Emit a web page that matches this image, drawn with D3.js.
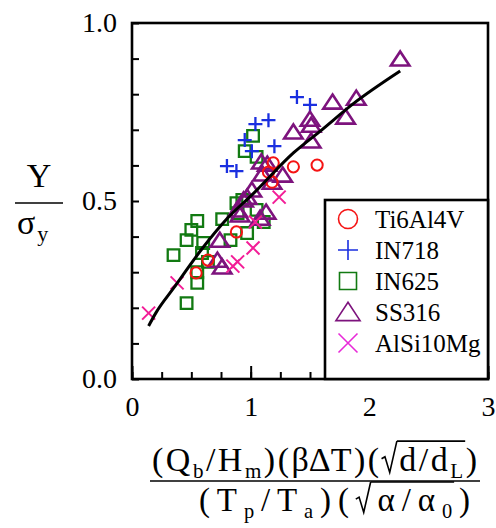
<!DOCTYPE html>
<html lang="en">
<head>
<meta charset="utf-8">
<title>Y / sigma_y scatter</title>
<script src="https://cdn.jsdelivr.net/npm/d3@7"></script>
<style>
  body { margin: 0; background: #fff; }
  svg text { font-family: "Liberation Serif", "Times New Roman", "DejaVu Serif", serif; fill: #000; }
</style>
</head>
<body>
<svg id="chart" width="496" height="528"></svg>
<script>
// values
var ti6al4v = [[1.19,0.607],[1.36,0.596],[1.56,0.601],[1.18,0.553],[1.15,0.581],[0.88,0.413],[0.64,0.334],[0.54,0.298]];
var in718 = [[1.39,0.792],[1.50,0.770],[1.15,0.727],[1.04,0.716],[0.95,0.671],[1.20,0.654],[0.80,0.598],[0.88,0.584],[1.01,0.640]];
var in625 = [[1.02,0.683],[0.95,0.640],[1.05,0.624],[0.35,0.348],[0.46,0.390],[0.50,0.419],[0.55,0.444],[0.60,0.382],
             [0.64,0.329],[0.76,0.449],[0.88,0.494],[0.89,0.466],[0.97,0.410],[1.05,0.475],[1.11,0.441],[0.55,0.300],
             [0.55,0.270],[0.46,0.213],[0.83,0.390],[0.59,0.354],[0.93,0.503]];
var ss316 = [[2.26,0.899],[1.69,0.778],[1.89,0.789],[1.80,0.736],[1.50,0.730],[1.36,0.694],[1.51,0.713],[1.51,0.669],
             [1.09,0.610],[1.14,0.604],[1.10,0.576],[1.27,0.573],[1.18,0.553],[1.01,0.531],[0.94,0.503],[0.89,0.475],
             [0.91,0.461],[1.13,0.469],[1.08,0.452],[0.74,0.390],[0.72,0.334],[0.76,0.315],[0.97,0.511]];
var alsi10mg = [[0.14,0.185],[0.38,0.270],[0.85,0.317],[0.89,0.329],[1.02,0.368],[1.04,0.441],[1.24,0.511]];
var fitX = [0.14,0.2,0.35,0.6,0.8,1.02,1.36,1.6,1.86,2.26];
var fitY = [0.149,0.185,0.255,0.37,0.45,0.52,0.635,0.70,0.772,0.865];
var xMajor = [0,1,2,3];
var yLabels = [0.0,0.5,1.0];
var names = ["Ti6Al4V","IN718","IN625","SS316","AlSi10Mg"];

var FONT = "'Liberation Serif', 'Times New Roman', 'DejaVu Serif', serif";
var svg = d3.select("#chart");
var mLeft = 132, mRight = 488, mTop = 23, mBottom = 379;

var x = d3.scaleLinear().domain([0,3]).range([mLeft,mRight]);
var y = d3.scaleLinear().domain([0,1]).range([mBottom,mTop]);

// marker outlines
function shape(kind, s)
{
    if (kind == "circle") return "M" + s + ",0A" + s + "," + s + " 0 1,1 " + (-s) + ",0A" + s + "," + s + " 0 1,1 " + s + ",0Z";
    if (kind == "plus") return "M" + (-s) + ",0H" + s + "M0," + (-s) + "V" + s;
    if (kind == "square") return "M" + (-s) + "," + (-s) + "H" + s + "V" + s + "H" + (-s) + "Z";
    if (kind == "tri") return "M0," + (-s * 0.85) + "L" + (s * 1.05) + "," + (s * 0.75) + "H" + (-s * 1.05) + "Z";
    return "M" + (-s) + "," + (-s) + "L" + s + "," + s + "M" + (-s) + "," + s + "L" + s + "," + (-s);
}

var series = [
    {data: in625, kind: "square", color: "#127a12", s: 5.8, w: 2.3},
    {data: in718, kind: "plus", color: "#1a2fe0", s: 7, w: 2.3},
    {data: ss316, kind: "tri", color: "#7d137d", s: 8.8, w: 2.6},
    {data: ti6al4v, kind: "circle", color: "#f51414", s: 5.6, w: 2},
    {data: alsi10mg, kind: "x", color: "#f31d97", s: 6.5, w: 2}
];

series.forEach(function (sr)
{
    svg.append("g").selectAll("path")
        .data(sr.data)
        .enter().append("path")
        .attr("transform", function (d) { return "translate(" + x(d[0]) + "," + y(d[1]) + ")"; })
        .attr("d", shape(sr.kind, sr.s))
        .attr("fill", "none")
        .attr("stroke", sr.color)
        .attr("stroke-width", sr.w);
});

// fitted curve
var fit = fitX.map(function (v, i) { return [v, fitY[i]]; });
svg.append("path")
    .datum(fit)
    .attr("d", d3.line().x(function (d) { return x(d[0]); }).y(function (d) { return y(d[1]); }).curve(d3.curveMonotoneX))
    .attr("fill", "none")
    .attr("stroke", "#000")
    .attr("stroke-width", 3);

// axes, ticks pointing inward
function styleText(g, size)
{
    g.attr("font-family", null);
    g.selectAll("text").attr("font-size", size).style("font-family", FONT).attr("fill", "#000");
}
svg.append("g")
    .attr("transform", "translate(0," + mBottom + ")")
    .call(d3.axisBottom(x).tickValues(d3.range(0, 3.01, 0.25)).tickSize(-7).tickFormat(""))
    .call(function (g) { g.select(".domain").remove(); g.selectAll("line").attr("stroke-width", 2); });
svg.append("g")
    .attr("transform", "translate(0," + mBottom + ")")
    .call(d3.axisBottom(x).tickValues(xMajor).tickSize(-13).tickPadding(17).tickFormat(d3.format("d")))
    .call(function (g)
    {
        g.select(".domain").remove();
        g.selectAll("line").attr("stroke-width", 2);
        styleText(g, 28);
    });
svg.append("g")
    .attr("transform", "translate(" + mLeft + ",0)")
    .call(d3.axisLeft(y).tickValues(d3.range(0, 1.01, 0.1)).tickSize(-7).tickFormat(""))
    .call(function (g) { g.select(".domain").remove(); g.selectAll("line").attr("stroke-width", 2); });
svg.append("g")
    .attr("transform", "translate(" + mLeft + ",0)")
    .call(d3.axisLeft(y).tickValues(yLabels).tickSize(0).tickPadding(15).tickFormat(d3.format(".1f")))
    .call(function (g)
    {
        g.select(".domain").remove();
        styleText(g, 28);
    });

svg.append("rect")
    .attr("x", mLeft).attr("y", mTop)
    .attr("width", mRight - mLeft).attr("height", mBottom - mTop)
    .attr("fill", "none").attr("stroke", "#000").attr("stroke-width", 2.6);

// legend
var lg = svg.append("g");
lg.append("rect")
    .attr("x", 325).attr("y", 200)
    .attr("width", mRight - 325).attr("height", mBottom - 200)
    .attr("fill", "#fff").attr("stroke", "#000").attr("stroke-width", 2.6);
var legendKinds = [
    {kind: "circle", color: "#f51414", s: 9.5},
    {kind: "plus", color: "#1a2fe0", s: 10},
    {kind: "square", color: "#127a12", s: 8.5},
    {kind: "tri", color: "#7d137d", s: 11.5},
    {kind: "x", color: "#e82ad8", s: 9.5}
];
names.forEach(function (n, i)
{
    var cy = 219 + i * 31;
    lg.append("path")
        .attr("transform", "translate(348," + cy + ")")
        .attr("d", shape(legendKinds[i].kind, legendKinds[i].s))
        .attr("fill", "none").attr("stroke", legendKinds[i].color).attr("stroke-width", 1.6);
    lg.append("text")
        .attr("x", 375).attr("y", cy + 9)
        .style("font-family", FONT)
        .attr("font-size", 25)
        .text(n);
});

// y label  Y / sigma_y
svg.append("text").attr("x", 39).attr("y", 187).attr("text-anchor", "middle")
    .style("font-family", FONT).attr("font-size", 34).text("Y");
svg.append("line").attr("x1", 15).attr("x2", 63).attr("y1", 203).attr("y2", 203).attr("stroke", "#000").attr("stroke-width", 1.5);
var sig = svg.append("text").attr("x", 17).attr("y", 234).style("font-family", FONT).attr("font-size", 34);
sig.append("tspan").text("σ");
sig.append("tspan").attr("font-size", 22).attr("dy", 7).attr("dx", 2).text("y");

// x label as a fraction, laid out piece by piece
// kind: 0 normal, 1 subscript, 2 radical, 3 under bar, 4 subscript under bar
var numSegs = [["(",0],["Q",0],["b",1],["/",0],["H",0],["m",1],[")",0],["(",0],["βΔT",0],[")",0],["(",0],["√",2],["d",3],["/",3],["d",3],["L",4],[")",0]];
var denSegs = [["(",0],["T",0],["p",1],["/",0],["T",0],["a",1],[")",0],["(",0],["√",2],["α",3],["/",3],["α",3],["0",4],[")",0]];

function mathLine(segs, x0, x1, base, fs)
{
    var g = svg.append("g");
    var items = [];
    var total = 0;
    segs.forEach(function (s)
    {
        var it = {kind: s[1]};
        if (s[1] == 2)
        {
            it.w = fs * 0.45;
            it.el = g.append("path").attr("fill", "none").attr("stroke", "#000").attr("stroke-width", 1.6);
        }
        else
        {
            var sub = (s[1] == 1 || s[1] == 4);
            it.el = g.append("text").style("font-family", FONT).attr("font-size", sub ? fs * 0.62 : fs)
                .attr("y", sub ? base + fs * 0.22 : base).text(s[0]);
            it.w = it.el.node().getComputedTextLength();
        }
        total += it.w;
        items.push(it);
    });
    var gap = Math.max(0, (x1 - x0 - total) / (items.length - 1));
    var cx = x0, barStart = null, barEnd = null;
    items.forEach(function (it)
    {
        if (it.kind == 2)
        {
            barStart = cx + it.w;
            it.el.attr("d", "M" + cx + "," + (base - fs * 0.36) + "L" + (cx + fs * 0.1) + "," + (base - fs * 0.42) +
                "L" + (cx + fs * 0.24) + "," + (base + fs * 0.04) + "L" + (cx + it.w) + "," + (base - fs * 0.88));
        }
        else
        {
            it.el.attr("x", cx);
        }
        if (it.kind == 3 || it.kind == 4) barEnd = cx + it.w + 2;
        cx += it.w + gap;
    });
    g.append("line").attr("x1", barStart).attr("x2", barEnd)
        .attr("y1", base - fs * 0.88).attr("y2", base - fs * 0.88)
        .attr("stroke", "#000").attr("stroke-width", 1.6);
}

mathLine(numSegs, 152, 477, 471, 34);
svg.append("line").attr("x1", 150).attr("x2", 480).attr("y1", 481).attr("y2", 481).attr("stroke", "#000").attr("stroke-width", 1.5);
mathLine(denSegs, 199, 470, 511, 33);
</script>
</body>
</html>
